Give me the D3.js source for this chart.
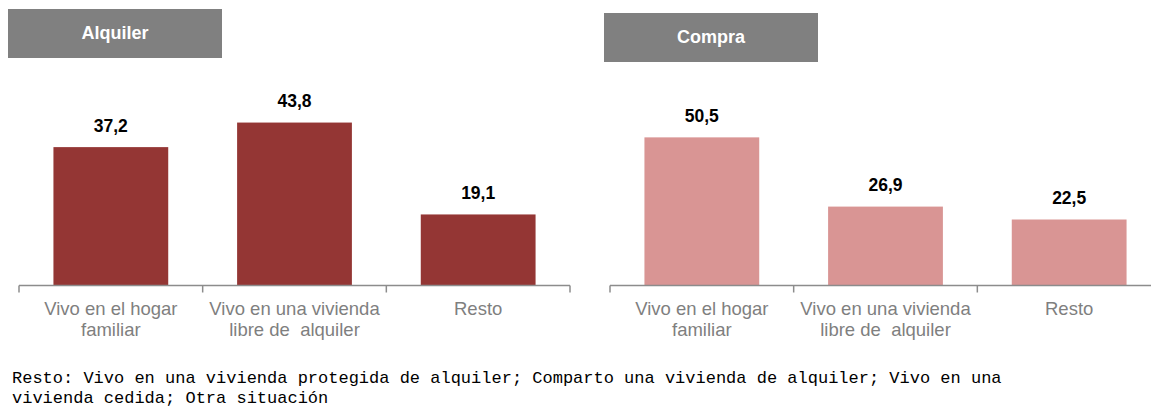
<!DOCTYPE html>
<html><head><meta charset="utf-8">
<script src="https://cdn.jsdelivr.net/npm/d3@7"></script>
<style>body{margin:0;background:#fff}svg{display:block}</style>
</head><body>
<svg id="c" width="1151" height="408"></svg>
<script>
const categories = [["Vivo en el hogar","familiar"],["Vivo en una vivienda","libre de  alquiler"],["Resto"]];
const catKeys = ["hogar","libre","resto"];
const alquilerValues = [37.2, 43.8, 19.1];
const compraValues = [50.5, 26.9, 22.5];
const panelTitles = ["Alquiler","Compra"];
const footnote = ["Resto: Vivo en una vivienda protegida de alquiler; Comparto una vivienda de alquiler; Vivo en una","vivienda cedida; Otra situación"];

const svg = d3.select("#c");
const baseY = 285.5;

const panels = [
  {title: panelTitles[0], values: alquilerValues, color: "#943634", x0: 19, x1: 570, max: 50, top: 99.5, box: [8, 9, 214, 49]},
  {title: panelTitles[1], values: compraValues, color: "#d99594", x0: 610, x1: 1161, max: 60, top: 109.5, box: [604, 13, 214, 49]}
];

panels.forEach(p => {
  const g = svg.append("g");
  const x = d3.scaleBand().domain(catKeys).range([p.x0, p.x1]).paddingInner(0).paddingOuter(0);
  const y = d3.scaleLinear().domain([0, p.max]).range([baseY, p.top]);
  const bw = x.bandwidth() * 0.625;

  // title box
  g.append("rect").attr("x", p.box[0]).attr("y", p.box[1]).attr("width", p.box[2]).attr("height", p.box[3]).attr("fill", "#808080");
  g.append("text").attr("x", p.box[0] + p.box[2] / 2).attr("y", p.box[1] + 30)
    .attr("text-anchor", "middle").attr("fill", "#fff")
    .style("font", "bold 18px 'Liberation Sans', Arial, sans-serif").text(p.title);

  // bars
  g.selectAll("rect.bar").data(p.values).join("rect").attr("class", "bar")
    .attr("x", (d, i) => x(catKeys[i]) + (x.bandwidth() - bw) / 2)
    .attr("y", d => y(d)).attr("width", bw).attr("height", d => baseY - y(d))
    .attr("fill", p.color);

  // value labels
  g.selectAll("text.val").data(p.values).join("text").attr("class", "val")
    .attr("x", (d, i) => x(catKeys[i]) + x.bandwidth() / 2)
    .attr("y", d => y(d) - 15.5)
    .attr("text-anchor", "middle").attr("fill", "#000")
    .style("font", "bold 17.5px 'Liberation Sans', Arial, sans-serif")
    .text(d => d.toFixed(1).replace(".", ","));

  // axis line + ticks at band edges
  g.append("line").attr("x1", p.x0).attr("x2", p.x1).attr("y1", baseY).attr("y2", baseY)
    .attr("stroke", "#8c8c8c").attr("stroke-width", 1.5);
  const edges = catKeys.map(k => x(k)).concat([x(catKeys[catKeys.length - 1]) + x.bandwidth()]);
  g.selectAll("line.tick").data(edges).join("line").attr("class", "tick")
    .attr("x1", d => d).attr("x2", d => d).attr("y1", baseY).attr("y2", baseY + 7)
    .attr("stroke", "#8c8c8c").attr("stroke-width", 1.5);

  // category labels
  categories.forEach((lines, i) => {
    const t = g.append("text").attr("text-anchor", "middle").attr("fill", "#7f7f7f")
      .style("font", "18.5px 'Liberation Sans', Arial, sans-serif");
    lines.forEach((ln, j) => {
      t.append("tspan").attr("x", x(catKeys[i]) + x.bandwidth() / 2).attr("y", 315 + j * 21)
        .style("white-space", "pre").text(ln);
    });
  });
});

// footnote
footnote.forEach((ln, j) => {
  svg.append("text").attr("x", 12).attr("y", 383 + j * 20).attr("fill", "#000")
    .style("font", "17px 'Liberation Mono', 'DejaVu Sans Mono', monospace")
    .style("white-space", "pre").text(ln);
});
</script>
</body></html>
